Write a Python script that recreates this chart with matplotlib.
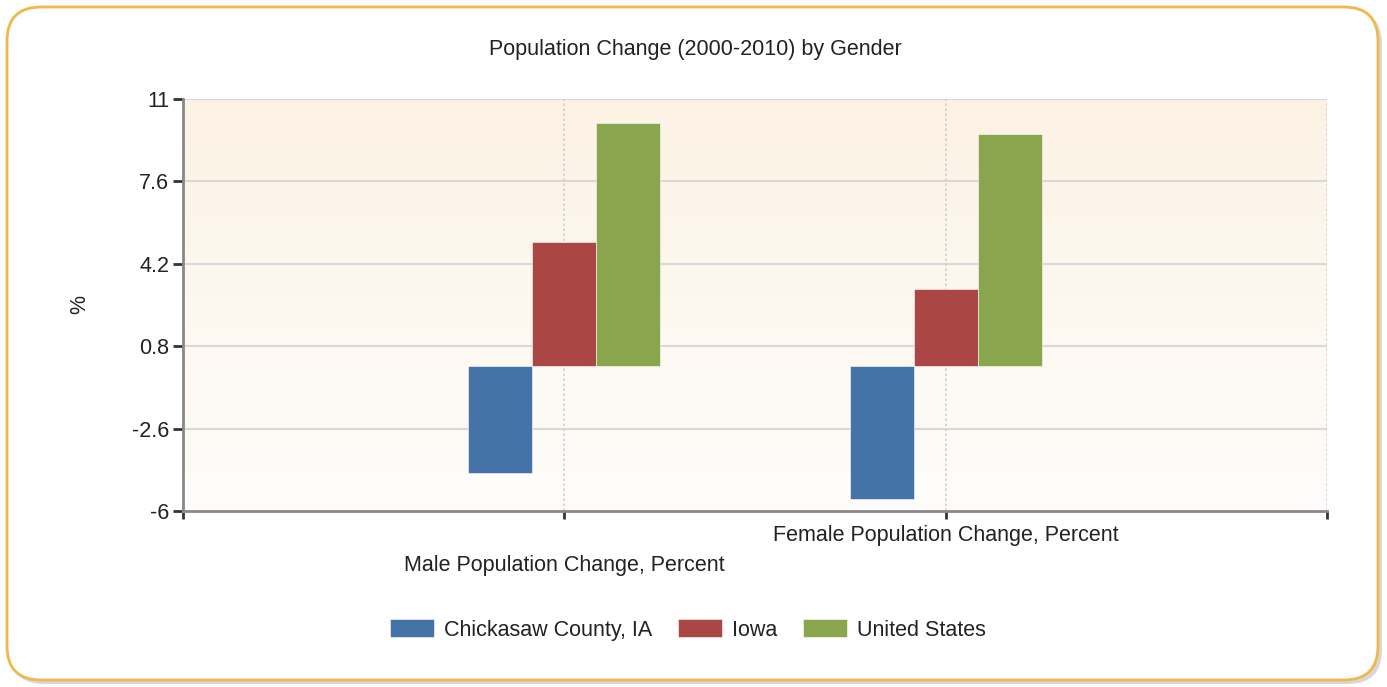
import numpy as np
import matplotlib
matplotlib.use('Agg')
from matplotlib import pyplot as plt
from matplotlib.patches import FancyBboxPatch
from matplotlib.colors import LinearSegmentedColormap

# данные
categories = ['Male Population Change, Percent', 'Female Population Change, Percent']
series = ['Chickasaw County, IA', 'Iowa', 'United States']
chickasaw = [-4.45, -5.5]
iowa = [5.08, 3.15]
usa = [10.03, 9.55]
yticks = [-6, -2.6, 0.8, 4.2, 7.6, 11]
colors = ['#4572a7', '#aa4643', '#89a54e']

plt.rcParams['font.family'] = ['Liberation Sans', 'DejaVu Sans']
fs = 15.5

W, H = 1387, 687
fig = plt.figure(figsize=(W / 100, H / 100), dpi=100)
fig.patch.set_facecolor('white')

# рамка со скруглёнными углами
bg = fig.add_axes([0, 0, 1, 1], zorder=0)
bg.set_xlim(0, W)
bg.set_ylim(H, 0)
bg.axis('off')
shadow = FancyBboxPatch((10, 10), 1372, 674, boxstyle='round,pad=0,rounding_size=34',
                        facecolor='#c8c8c8', edgecolor='none', alpha=0.7)
bg.add_patch(shadow)
frame = FancyBboxPatch((7, 7), 1371, 673, boxstyle='round,pad=0,rounding_size=34',
                       facecolor='white', edgecolor='#f0b84a', linewidth=2)
bg.add_patch(frame)

ax = fig.add_axes([183 / W, 1 - 511 / H, (1327 - 183) / W, (511 - 99) / H], zorder=1)
ax.set_xlim(0, 3)
ax.set_ylim(-6, 11)

# градиентный фон
cmap = LinearSegmentedColormap.from_list('bgr', ['#fefdfb', '#fcf2e4'])
ax.imshow(np.linspace(0, 1, 256).reshape(-1, 1), cmap=cmap, origin='lower',
          extent=[0, 3, -6, 11], aspect='auto', zorder=0)

# сетка
for y in yticks[1:]:
    ax.axhline(y, color='#d8d8d8', lw=1.5, zorder=1)
for x in [1, 2, 3]:
    ax.axvline(x, color='#d0d0d0', lw=1.2, ls=(0, (1.5, 1.5)), zorder=1)

w = 0.168
x = np.arange(1, len(categories) + 1)
for i, (vals, name) in enumerate(zip([chickasaw, iowa, usa], series)):
    ax.bar(x + (i - 1) * w, vals, width=w, color=colors[i], label=name,
           edgecolor='#ffffff', linewidth=0.4, zorder=3)

ax.set_yticks(yticks)
ax.set_yticklabels(['-6', '-2.6', '0.8', '4.2', '7.6', '11'], fontsize=fs, color='#222222')
ax.set_xticks([0, 1, 2, 3])
labels = ax.set_xticklabels(['', '\n' + categories[0], categories[1], ''], fontsize=fs,
                            color='#222222')
for lb in labels:
    lb.set_linespacing(1.55)
ax.tick_params(axis='y', length=7, width=2, color='#333333', pad=3)
ax.tick_params(axis='x', length=6, width=2, color='#333333', pad=4)

for s in ['top', 'right']:
    ax.spines[s].set_visible(False)
for s in ['left', 'bottom']:
    ax.spines[s].set_color('#888888')
    ax.spines[s].set_linewidth(2)
    ax.spines[s].set_zorder(4)

ax.set_ylabel('%', fontsize=fs, color='#222222', labelpad=30)
fig.text(695 / W, 1 - 50 / H, 'Population Change (2000-2010) by Gender', ha='center',
         va='center', fontsize=fs, color='#222222')

ax.legend(loc='center', bbox_to_anchor=(688 / W, 1 - 630 / H), bbox_transform=fig.transFigure,
          ncol=3, frameon=False, fontsize=fs, handlelength=2.05, handleheight=0.85,
          handletextpad=0.45, columnspacing=1.2, labelcolor='#222222')

plt.savefig('out.png', dpi=100)
plt.close()
